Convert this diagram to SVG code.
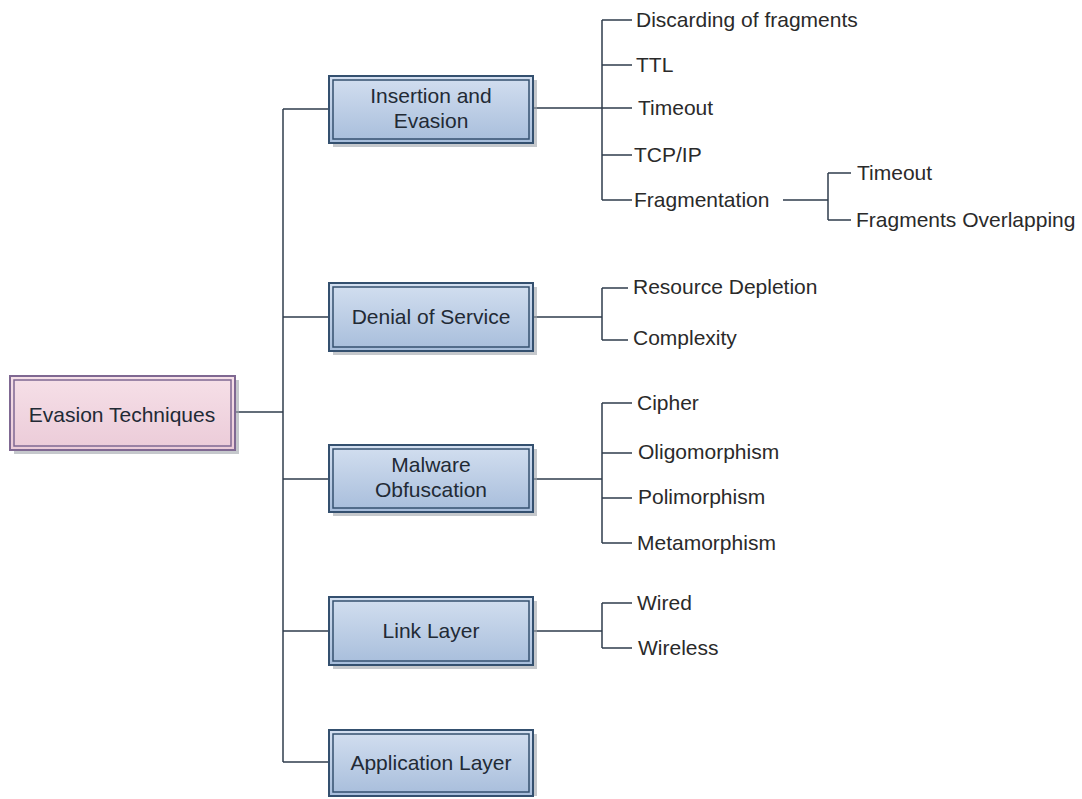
<svg xmlns="http://www.w3.org/2000/svg" width="1082" height="799" viewBox="0 0 1082 799">
<defs>
<linearGradient id="gBlue" x1="0" y1="0" x2="0" y2="1">
<stop offset="0" stop-color="#d3dff0"/>
<stop offset="1" stop-color="#a7bddb"/>
</linearGradient>
<linearGradient id="gPink" x1="0" y1="0" x2="0" y2="1">
<stop offset="0" stop-color="#f6e0e8"/>
<stop offset="1" stop-color="#ebcbd8"/>
</linearGradient>
</defs>
<style>
.shadow{fill:#9ea3aa;opacity:0.6}
.bbox{fill:url(#gBlue);stroke:#34506f;stroke-width:2}
.binner{fill:none;stroke:#34506f;stroke-width:1.5}
.pbox{fill:url(#gPink);stroke:#7f6892;stroke-width:2}
.pinner{fill:none;stroke:#7f6892;stroke-width:1.5}
.btxt{font-family:"Liberation Sans",Arial,sans-serif;font-size:21px;fill:#222a35;text-anchor:middle}
.lbl{font-family:"Liberation Sans",Arial,sans-serif;font-size:21px;fill:#2a2a2a}
.conn path{fill:none;stroke:#2f3d4c;stroke-width:1.5}
</style>
<rect width="1082" height="799" fill="#ffffff"/>
<g class="conn" id="connectors">
<path d="M235,412 H283"/>
<path d="M283,109 V762"/>
<path d="M283,109 H329 M283,317 H329 M283,479 H329 M283,631 H329 M283,762 H329"/>
<path d="M533,108 H602 M602,20 V200 M602,20 H632 M602,65 H632 M602,108 H632 M602,155 H632 M602,200 H632"/>
<path d="M783,200 H828 M828,173 V220 M828,173 H851 M828,220 H851"/>
<path d="M533,317 H602 M602,288 V340 M602,288 H628 M602,340 H628"/>
<path d="M533,479 H602 M602,403 V543 M602,403 H632 M602,453 H632 M602,498 H632 M602,543 H632"/>
<path d="M533,631 H602 M602,603 V648 M602,603 H632 M602,648 H632"/>
</g>
<g id="root">
<rect class="shadow" x="14" y="380" width="225" height="74"/>
<rect class="pbox" x="10" y="376" width="225" height="74"/>
<rect class="pinner" x="14" y="380" width="217" height="66"/>
<text class="btxt" x="122" y="422">Evasion Techniques</text>
</g>
<g id="insertion">
<rect class="shadow" x="333" y="80" width="204" height="67"/>
<rect class="bbox" x="329" y="76" width="204" height="67"/>
<rect class="binner" x="333" y="80" width="196" height="59"/>
<text class="btxt" x="431" y="103">Insertion and</text>
<text class="btxt" x="431" y="128">Evasion</text>
</g>
<g id="denial">
<rect class="shadow" x="333" y="287" width="204" height="68"/>
<rect class="bbox" x="329" y="283" width="204" height="68"/>
<rect class="binner" x="333" y="287" width="196" height="60"/>
<text class="btxt" x="431" y="324">Denial of Service</text>
</g>
<g id="malware">
<rect class="shadow" x="333" y="449" width="204" height="67"/>
<rect class="bbox" x="329" y="445" width="204" height="67"/>
<rect class="binner" x="333" y="449" width="196" height="59"/>
<text class="btxt" x="431" y="472">Malware</text>
<text class="btxt" x="431" y="497">Obfuscation</text>
</g>
<g id="link">
<rect class="shadow" x="333" y="601" width="204" height="68"/>
<rect class="bbox" x="329" y="597" width="204" height="68"/>
<rect class="binner" x="333" y="601" width="196" height="60"/>
<text class="btxt" x="431" y="638">Link Layer</text>
</g>
<g id="application">
<rect class="shadow" x="333" y="734" width="204" height="62"/>
<rect class="bbox" x="329" y="730" width="204" height="66"/>
<rect class="binner" x="333" y="734" width="196" height="58"/>
<text class="btxt" x="431" y="770">Application Layer</text>
</g>
<g id="leaf-discarding"><text class="lbl" x="636" y="27">Discarding of fragments</text></g>
<g id="leaf-ttl"><text class="lbl" x="636" y="72">TTL</text></g>
<g id="leaf-timeout1"><text class="lbl" x="638" y="115">Timeout</text></g>
<g id="leaf-tcpip"><text class="lbl" x="634" y="162">TCP/IP</text></g>
<g id="leaf-fragmentation"><text class="lbl" x="634" y="207">Fragmentation</text></g>
<g id="leaf-timeout2"><text class="lbl" x="857" y="180">Timeout</text></g>
<g id="leaf-overlap"><text class="lbl" x="856" y="227">Fragments Overlapping</text></g>
<g id="leaf-resource"><text class="lbl" x="633" y="294">Resource Depletion</text></g>
<g id="leaf-complexity"><text class="lbl" x="633" y="345">Complexity</text></g>
<g id="leaf-cipher"><text class="lbl" x="637" y="410">Cipher</text></g>
<g id="leaf-oligo"><text class="lbl" x="638" y="459">Oligomorphism</text></g>
<g id="leaf-poli"><text class="lbl" x="638" y="504">Polimorphism</text></g>
<g id="leaf-meta"><text class="lbl" x="637" y="550">Metamorphism</text></g>
<g id="leaf-wired"><text class="lbl" x="637" y="610">Wired</text></g>
<g id="leaf-wireless"><text class="lbl" x="638" y="655">Wireless</text></g>
</svg>
